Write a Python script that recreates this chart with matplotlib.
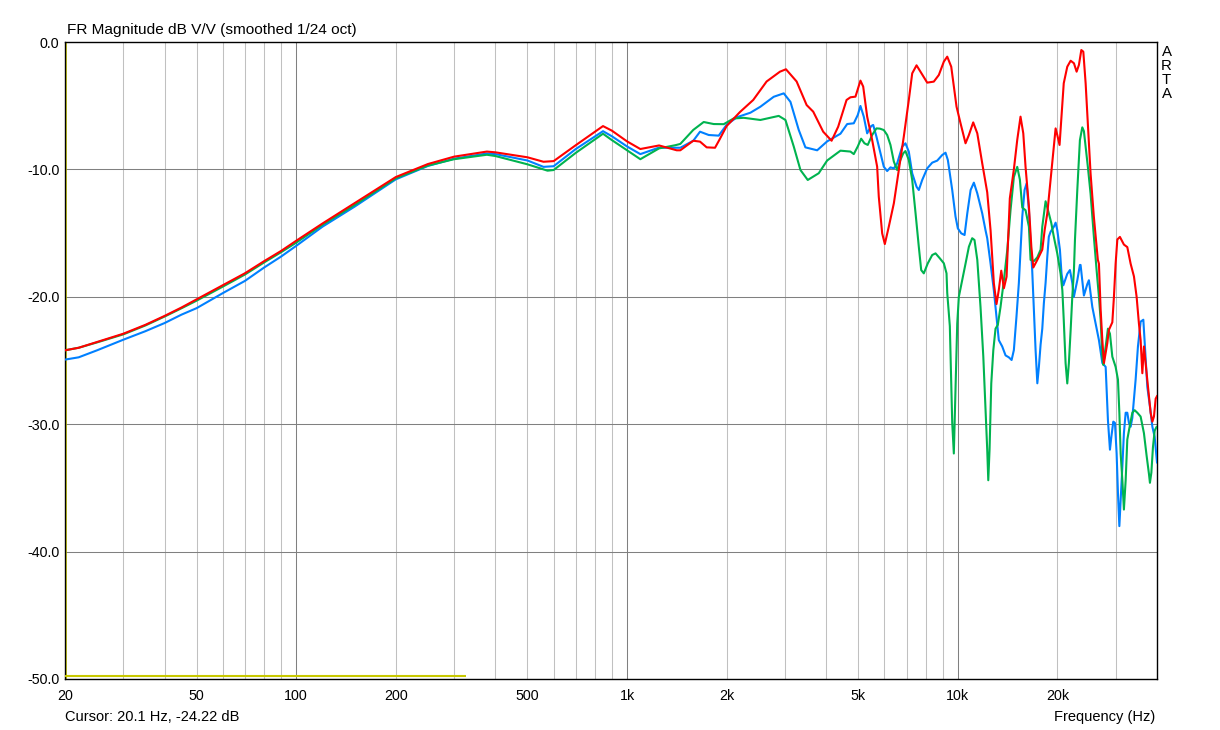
import matplotlib
matplotlib.use("Agg")
import matplotlib.pyplot as plt

plt.rcParams['font.family'] = ['Liberation Sans', 'DejaVu Sans']

# ---------------- data ----------------
red_f = [20, 22, 25, 30, 35, 40, 45, 50, 60, 70, 80, 90, 100, 120, 150, 200, 250, 300, 377, 400, 500, 559, 600,
         700, 846, 900, 1000, 1097, 1250, 1413, 1449, 1586, 1662, 1741, 1845, 1900, 2000, 2194, 2407,
         2642, 2899, 3023, 3256, 3491, 3655, 3917, 4153, 4348, 4609, 4735, 4904, 5077, 5175, 5320,
         5508, 5703, 5768, 5906, 6016, 6184, 6406, 6631, 6865, 7109, 7279, 7502, 7711, 8080, 8460,
         8761, 9072, 9289, 9551, 9910, 10190, 10550, 10800, 11130, 11450, 11850, 12270, 12560, 12850,
         13090, 13300, 13530, 13780, 14040, 14360, 14770, 15120, 15470, 15770, 16020, 16400, 16680,
         16910, 17390, 18000, 18300, 18640, 19160, 19750, 19980, 20300, 20580, 20900, 21420, 21930,
         22440, 22860, 23230, 23620, 23950, 24340, 24720, 25190, 25770, 26500, 26700, 27020, 27340,
         27650, 28300, 28620, 29310, 29640, 29990, 30350, 30900, 31770, 32530, 33290, 34070, 34710,
         35270, 35690, 36120, 36520, 37400, 37820, 38270, 38730, 39160, 39630, 40000]
red_db = [-24.2, -24.0, -23.55, -22.9, -22.2, -21.5, -20.84, -20.2, -19.1, -18.15, -17.2, -16.4, -15.6, -14.25, -12.66, -10.6,
          -9.58, -9.0, -8.6, -8.66, -9.05, -9.4, -9.35, -8.1, -6.6, -6.96, -7.8, -8.4, -8.12, -8.5,
          -8.5, -7.75, -7.82, -8.27, -8.3, -7.7, -6.6, -5.5, -4.55, -3.1, -2.33, -2.14, -3.1, -4.95,
          -5.47, -7.04, -7.75, -6.65, -4.55, -4.34, -4.29, -3.03, -3.5, -5.86, -7.69, -9.79, -12.14,
          -15.02, -15.86, -14.5, -12.66, -10.05, -7.43, -4.55, -2.46, -1.83, -2.33, -3.19, -3.11,
          -2.59, -1.54, -1.15, -1.94, -5.08, -6.38, -7.95, -7.3, -6.31, -7.17, -9.52, -11.8, -14.8,
          -18.94, -20.57, -19.46, -17.95, -19.33, -18.42, -12.27, -10.0, -7.69, -5.86, -7.17, -9.79,
          -12.9, -16.07, -17.7, -17.1, -16.3, -14.76, -13.45, -10.31, -6.78, -7.3, -8.08, -5.86, -3.24,
          -1.94, -1.47, -1.67, -2.33, -1.8, -0.63, -0.76, -3.24, -6.38, -10.31, -13.7, -17.1, -17.4,
          -21.0, -23.4, -25.2, -23.65, -22.6, -22.0, -20.0, -17.4, -15.5, -15.3, -15.9, -16.1, -17.4,
          -18.4, -20.0, -22.1, -23.4, -26.0, -23.9, -26.5, -27.8, -29.1, -29.8, -29.4, -28.0, -27.8]

blue_f = [20, 22, 25, 30, 35, 40, 45, 50, 60, 70, 80, 90, 100, 120, 150, 200, 250, 300, 377, 400, 500, 559, 600,
          700, 846, 900, 1000, 1097, 1246, 1449, 1586, 1662, 1766, 1893, 2000, 2151, 2360, 2530, 2776,
          2977, 3119, 3304, 3461, 3756, 4027, 4417, 4629, 4847, 4983, 5077, 5196, 5320, 5470, 5547,
          5675, 5841, 5973, 6115, 6257, 6406, 6556, 6787, 6944, 7109, 7279, 7502, 7621, 7804, 8080,
          8367, 8664, 8971, 9179, 9328, 9617, 9840, 10000, 10240, 10480, 10680, 10930, 11180, 11450,
          11850, 12130, 12270, 12560, 12850, 13090, 13300, 13620, 13940, 14260, 14540, 14770, 15040,
          15290, 15470, 15660, 15910, 16140, 16400, 16590, 16780, 16980, 17180, 17390, 17580, 17790,
          18000, 18200, 18420, 18640, 18840, 19070, 19510, 19750, 19980, 20350, 20580, 20840, 21420,
          21820, 22180, 22430, 22970, 23390, 23500, 24050, 24630, 24900, 25190, 25500, 26100, 26700,
          27340, 27980, 28430, 28830, 29110, 29510, 29850, 30200, 30480, 30780, 31060, 31430, 31770,
          32160, 32530, 32900, 33290, 33690, 34470, 35030, 35690, 36370, 36780, 37400, 38080, 38730,
          39360, 39910, 40000]
blue_db = [-24.93, -24.75, -24.2, -23.37, -22.7, -22.06, -21.4, -20.89, -19.71, -18.75, -17.7, -16.84, -16.0, -14.5, -12.93,
           -10.78, -9.73, -9.16, -8.75, -8.8, -9.3, -9.8, -9.75, -8.4, -7.0, -7.4, -8.2, -8.8, -8.3,
           -8.3, -7.75, -7.04, -7.3, -7.35, -6.5, -5.9, -5.55, -5.08, -4.3, -4.03, -4.7, -6.9, -8.27,
           -8.5, -7.8, -7.2, -6.44, -6.38, -5.73, -5.02, -5.86, -7.17, -6.6, -6.51, -7.43, -8.74, -9.79,
           -10.13, -9.84, -9.92, -9.52, -8.22, -7.95, -8.61, -10.31, -11.36, -11.62, -10.83, -9.92,
           -9.47, -9.31, -8.87, -8.69, -9.26, -11.62, -13.7, -14.63, -15.02, -15.15, -13.45, -11.62,
           -11.04, -11.88, -13.45, -14.8, -15.4, -17.4, -19.5, -21.6, -23.4, -23.9, -24.6, -24.75,
           -24.96, -24.18, -21.56, -18.94, -16.33, -13.71, -11.62, -11.1, -13.19, -15.8, -17.9, -21.04,
           -24.18, -26.79, -25.5, -23.75, -22.5, -20.5, -18.9, -16.85, -15.28, -14.9, -14.5, -14.18,
           -14.76, -16.3, -18.2, -19.1, -18.2, -17.9, -18.9, -20.0, -18.7, -17.5, -17.5, -19.9, -19.0,
           -18.7, -19.7, -20.8, -22.1, -23.4, -25.2, -25.5, -29.7, -32.0, -31.0, -29.8, -29.9, -32.3,
           -35.4, -38.0, -36.0, -33.3, -30.7, -29.1, -29.1, -29.9, -30.2, -29.5, -26.5, -23.9, -21.95,
           -21.8, -23.9, -27.1, -28.6, -30.2, -31.0, -32.8, -33.0]

green_f = [20, 22, 25, 30, 35, 40, 45, 50, 60, 70, 80, 90, 100, 120, 150, 200, 250, 300, 377, 400, 500, 575, 600,
           700, 846, 900, 1000, 1097, 1250, 1400, 1449, 1586, 1705, 1828, 1960, 2101, 2253, 2530, 2875,
           3012, 3191, 3344, 3518, 3798, 4027, 4417, 4735, 4847, 4983, 5102, 5220, 5342, 5508, 5675,
           5812, 5973, 6115, 6257, 6406, 6556, 6705, 6838, 6944, 7109, 7279, 7451, 7621, 7749, 7890,
           8114, 8367, 8563, 8822, 9072, 9243, 9289, 9458, 9551, 9617, 9685, 9725, 9840, 9958, 10070,
           10310, 10550, 10800, 11050, 11230, 11450, 11710, 11940, 12130, 12270, 12360, 12470, 12620,
           12800, 13000, 13210, 13460, 13780, 14110, 14430, 14770, 15120, 15400, 15660, 16020, 16400,
           16590, 16980, 17390, 17790, 18000, 18420, 18840, 19160, 19510, 19980, 20450, 20700, 20900,
           21170, 21420, 21660, 21930, 22180, 22430, 22600, 22970, 23390, 23780, 24050, 24340, 24720,
           25190, 25780, 26270, 26700, 27020, 27340, 27530, 27980, 28430, 28830, 29310, 29990, 30480,
           30780, 31060, 31430, 31770, 32160, 32530, 33060, 33690, 34230, 34880, 35690, 36520, 37220,
           37820, 38080, 38460, 38890, 39360, 39910, 40000]
green_db = [-24.2, -24.0, -23.58, -22.95, -22.25, -21.55, -20.9, -20.3, -19.2, -18.25, -17.3, -16.5, -15.75, -14.35, -12.8,
            -10.7, -9.7, -9.2, -8.85, -8.95, -9.6, -10.1, -10.05, -8.7, -7.2, -7.7, -8.5, -9.2, -8.35,
            -8.1, -8.0, -6.9, -6.28, -6.44, -6.45, -6.0, -5.95, -6.12, -5.8, -6.12, -8.2, -10.05, -10.83,
            -10.3, -9.3, -8.53, -8.6, -8.8, -8.2, -7.59, -7.95, -8.08, -7.3, -6.78, -6.8, -6.91, -7.3,
            -8.08, -9.39, -10.05, -9.26, -8.74, -8.56, -9.26, -10.83, -13.45, -16.07, -17.9, -18.16,
            -17.37, -16.72, -16.59, -16.98, -17.37, -18.16, -19.7, -22.3, -26.8, -29.9, -31.5, -32.3,
            -27.3, -22.1, -20.0, -18.7, -17.4, -16.07, -15.4, -15.54, -17.1, -20.8, -24.7, -28.9, -32.0,
            -34.4, -32.0, -26.8, -24.2, -22.5, -22.2, -20.8, -18.7, -16.3, -13.2, -10.6, -9.8, -10.8,
            -13.0, -13.2, -14.5, -17.1, -17.2, -16.9, -16.3, -14.5, -12.5, -13.45, -14.2, -15.3, -16.6,
            -18.2, -19.5, -21.8, -25.2, -26.8, -25.2, -22.6, -20.0, -18.0, -15.5, -11.6, -7.7, -6.7,
            -7.0, -8.2, -9.8, -11.9, -15.3, -17.9, -20.0, -21.8, -24.7, -25.35, -23.9, -22.5, -22.9,
            -24.7, -25.5, -26.5, -29.1, -32.3, -34.4, -36.7, -34.4, -31.2, -30.2, -29.1, -28.9, -29.1,
            -29.4, -30.7, -32.5, -33.9, -34.6, -33.8, -31.8, -30.5, -30.2, -30.2]

cursor_f = [20, 327]
cursor_db = [-49.75, -49.75]

xtick_vals = [20, 50, 100, 200, 500, 1000, 2000, 5000, 10000, 20000]
xtick_labels = ['20', '50', '100', '200', '500', '1k', '2k', '5k', '10k', '20k']
ytick_vals = [0, -10, -20, -30, -40, -50]
ytick_labels = ['0.0', '-10.0', '-20.0', '-30.0', '-40.0', '-50.0']

# ---------------- figure ----------------
W, H = 1220, 730
fig = plt.figure(figsize=(W / 100, H / 100), dpi=100)
fig.patch.set_facecolor('white')
ax = fig.add_axes([65 / W, 1 - 679 / H, (1157 - 65) / W, (679 - 42) / H])
ax.set_xscale('log')
ax.set_xlim(20, 40000)
ax.set_ylim(-50, 0)

# grid
for dec in [10, 100, 1000, 10000]:
    for m in range(1, 10):
        f = m * dec
        if 20 < f < 40000:
            ax.axvline(f, color='#808080' if m == 1 else '#c0c0c0', lw=0.75, zorder=1)
for v in ytick_vals[1:-1]:
    ax.axhline(v, color='#808080', lw=0.75, zorder=1)

ax.plot(blue_f, blue_db, color='#0080ff', lw=1.5, zorder=3)
ax.plot(green_f, green_db, color='#00b34f', lw=1.5, zorder=4)
ax.plot(red_f, red_db, color='#ff0000', lw=1.5, zorder=5)
ax.plot(cursor_f, cursor_db, color='#c8c800', lw=1.5, zorder=6, solid_capstyle='butt')
ax.axvline(20.1, color='#c8c800', lw=0.6, zorder=2)

ax.set_xticks(xtick_vals)
ax.set_xticklabels(xtick_labels)
ax.set_xticks([], minor=True)
ax.set_yticks(ytick_vals)
ax.set_yticklabels(ytick_labels)
ax.tick_params(axis='both', length=0, labelsize=10.3, colors='black')
ax.tick_params(axis='x', pad=7)
ax.tick_params(axis='y', pad=4)
for s in ax.spines.values():
    s.set_color('black')
    s.set_linewidth(1.0)

fig.text(67 / W, 1 - 30 / H, 'FR Magnitude dB V/V (smoothed 1/24 oct)', ha='left', va='center', fontsize=11.1)
fig.text(65 / W, 1 - 717 / H, 'Cursor: 20.1 Hz, -24.22 dB', ha='left', va='center', fontsize=10.5)
fig.text(1155 / W, 1 - 717 / H, 'Frequency (Hz)', ha='right', va='center', fontsize=10.5)
for i, ch in enumerate('ARTA'):
    fig.text(1166.5 / W, 1 - (52 + 13.9 * i) / H, ch, ha='center', va='center', fontsize=10.8)

fig.savefig('out.png', dpi=100)
